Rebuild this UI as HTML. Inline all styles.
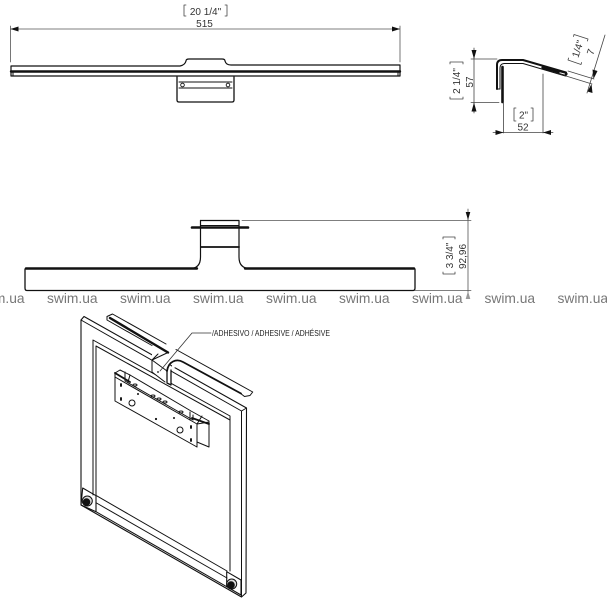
<!DOCTYPE html>
<html><head><meta charset="utf-8"><style>
html,body{margin:0;padding:0;background:#fff}
svg{display:block}
text{font-family:"Liberation Sans",sans-serif;fill:#222}
.w{font-size:13.8px;fill:#777}
.d{font-size:10px;fill:#333}
</style></head><body>
<svg width="607" height="600" viewBox="0 0 607 600" xmlns="http://www.w3.org/2000/svg">
<g fill="none" stroke="#111" stroke-linejoin="round" stroke-linecap="round">
<!-- dimension brackets -->
<g stroke="#444" stroke-width=".8">
<path d="M186 5H184V16H186M225 5H227V16H225"/>
<path d="M516 108H514V121H516M531 108H533V121H531"/>
<path d="M450 64V62H463V64M450 97V99H463V97"/>
<path d="M443 239V237H455V239M443 272V274H455V272"/>
<path d="M573.500 36.500L574 34.500L588 39L587.400 41M568.600 58L568 60L581 64.500L581.600 62.500"/>
</g>
<!-- top view -->
<g stroke="#555" stroke-width=".8"><path d="M10.500 26V62M400 26V62M10.500 29H400"/></g>
<path d="M10.500 29l8-2.500v5zM400 29l-8-2.500v5z" fill="#111" stroke="none"/>
<path d="M11 66H180Q185 65 186 61Q186 59 189 59H222Q225 59 225 61Q226 65 231 65H400V76H11Z" stroke-width="1.200"/>
<path d="M11 71.500H400" stroke-width="2.400"/>
<path d="M13 72V76M398 72V76" stroke-width="1"/>
<path d="M177 77V100Q177 102 179 102H232Q234 102 234 100V77" stroke-width="1.300"/>
<path d="M179 82H232M179 88H232" stroke-width="1"/>
<circle cx="182.500" cy="85" r="1.800" stroke-width=".9"/><circle cx="228" cy="85" r="1.800" stroke-width=".9"/>
<!-- side profile -->
<path d="M497 89V65Q497 60 502 60H523L566 72.500" stroke-width="2"/>
<path d="M500 89V68Q500 64 504 63.500H523L565.500 76" stroke-width="1"/>
<path d="M497 89H500M566 72V76" stroke-width="1"/>
<path d="M502.500 67V102" stroke-width="2.600"/>
<path d="M543 67.500L566 74" stroke-width="3.200"/>
<path d="M560 72.800L564.500 74" stroke="#fff" stroke-width="1"/>
<g stroke="#444" stroke-width=".8">
<path d="M471 59H497M471 102.500H499M474 48V113"/>
<path d="M503.500 103V133M543 74V133M493 132.500H553"/>
<path d="M568 71L594 79M566 76L592 84M605 35L587 93"/>
</g>
<g fill="#111" stroke="none">
<path d="M474 59l-2.500-9h5zM474 102.500l-2.500 9h5z"/>
<path d="M503.500 132.500l-8-2.500v5zM543 132.500l8-2.500v5z"/>
<path d="M593.500 79l-1-9.500 5 1.500zM591.500 84l1 9-5-1.500z"/>
</g>
<!-- middle view -->
<path d="M200.500 220.500H239V257Q239 268.500 250 268.500" stroke-width="1.200"/>
<path d="M200.500 220.500V257Q200.500 268.500 190 268.500" stroke-width="1.200"/>
<path d="M200.500 225.500H239" stroke-width="1"/>
<path d="M192 227.500H248" stroke-width="2.600"/>
<path d="M201 247H239" stroke-width="1.800"/>
<path d="M26 268.500H197M245 268.500H414" stroke-width="2.400"/>
<path d="M25 269V288Q25 290.500 27 290.500H413Q415 290.500 415 288V269" stroke-width="1.300"/>
<g stroke="#555" stroke-width=".8"><path d="M242 220.500H471M415 290.500H471M468 209V298"/></g>
<path d="M468 220l-2.300-8h4.600z" fill="#111" stroke="none"/>
<path d="M468 291l-2.300 8h4.600z" fill="#999" stroke="none"/>
<!-- iso frame -->
<g stroke-width="1">
<path d="M81 320L84 316.500L246.500 408L246 593L241.500 597L81 505Z" stroke-width="1.100"/>
<path d="M81 320L241.500 411V597M241.500 411L246.500 408"/>
<path d="M93 495V340L230 416V571"/>
<path d="M96 496V346L230 420"/>
<path d="M82.700 488L96 495.700V511.700L81 505ZM226.700 571.700L241 580V595L226.700 586.700Z" stroke-width="1.100"/>
<path d="M96.500 495.700L227 571M96.500 503L227 578M96 511.700L226.700 586.700"/>
</g>
<circle cx="87.300" cy="501" r="5" fill="#ddd" stroke-width="1"/><circle cx="86.500" cy="502" r="3.800" fill="#111" stroke="none"/>
<circle cx="231.700" cy="584" r="5" fill="#ddd" stroke-width="1"/><circle cx="231" cy="585" r="3.800" fill="#111" stroke="none"/>
<!-- strip -->
<path d="M107 316.500L112.500 314L166 344L168 352.500L171 370V385L165 382L152 372V360L152 346L107 320.500Z" fill="#fff" stroke="none"/>
<path d="M176 349.500L252.700 392L250 395.500L244.500 396.500L241 394L183 362L171 370Z" fill="#fff" stroke="none"/>
<g stroke-width="1">
<path d="M107 316.500L112.500 314L166 344M107 316.500V320L152 345.500"/>
<path d="M176 349.500L252.700 392L250 395.500L244.500 396.500L240 393"/>
</g>
<path d="M110 318L168 352.500" stroke-width="2.400"/>
<path d="M167 371Q168 364 173 361.500Q178 359 183 362L241 393.500" stroke-width="1.800"/>
<path d="M152 360V372L165 382M152 360L167 371M152 360L168 352.500M152 360L158 354" stroke-width="1"/>
<path d="M167 371V383M171 370V385M167 383L171 385" stroke-width="1.300"/>
<circle cx="158" cy="372" r=".9" fill="#111" stroke="none"/>
<!-- plate -->
<g stroke-width="1">
<path d="M115 373L120 370L130 375L191 411L209 421V447L197 442V447L115 401Z"/>
<path d="M115 377L197 424V447M197 424L209 422"/>
<path d="M125 372V381L193 420V415"/>
<path d="M130 375L128 382M190 412V420M202 416L197 424"/>
</g>
<path d="M115 373L130 382M192 418L209 424" stroke-width="1.800"/>
<circle cx="132" cy="403" r="3" stroke-width="1"/><circle cx="180" cy="430" r="3" stroke-width="1"/>
<g fill="#111" stroke="none">
<ellipse cx="121" cy="385" rx="1" ry="2"/><ellipse cx="121" cy="399" rx="1" ry="2"/>
<ellipse cx="191" cy="427" rx="1" ry="2"/><ellipse cx="191" cy="440" rx="1" ry="2"/>
<circle cx="156" cy="419" r="1.100"/><circle cx="174" cy="418" r="1"/><circle cx="138" cy="394" r="1"/>
</g>
<g stroke-width="1">
<ellipse cx="135" cy="385" rx="2" ry="1"/><ellipse cx="153" cy="396" rx="2" ry="1"/><ellipse cx="159" cy="399" rx="2" ry="1"/><ellipse cx="165" cy="402" rx="2" ry="1"/><ellipse cx="181" cy="412" rx="2" ry="1"/>
</g>
<path d="M211 333H192L160 371" stroke="#333" stroke-width=".8"/>
</g>
<text x="205.500" y="15" class="d" text-anchor="middle">20 1/4"</text>
<text x="204.500" y="27" class="d" text-anchor="middle">515</text>
<text x="523.500" y="118.500" class="d" text-anchor="middle">2"</text>
<text x="523" y="130.500" class="d" text-anchor="middle">52</text>
<text transform="translate(460,81) rotate(-90)" class="d" text-anchor="middle">2 1/4"</text>
<text transform="translate(473,82) rotate(-90)" class="d" text-anchor="middle">57</text>
<text transform="translate(581,50) rotate(-72)" class="d" text-anchor="middle">1/4"</text>
<text transform="translate(594,53) rotate(-72)" class="d" text-anchor="middle">7</text>
<text transform="translate(453,255.500) rotate(-90)" class="d" text-anchor="middle">3 3/4"</text>
<text transform="translate(466,256.500) rotate(-90)" class="d" text-anchor="middle">92,96</text>
<text x="212" y="336" font-size="7.800" fill="#222" textLength="118" lengthAdjust="spacingAndGlyphs">/ADHESIVO / ADHESIVE / ADHÉSIVE</text>
<text x="-26" y="303" class="w">swim.ua</text>
<text x="47" y="303" class="w">swim.ua</text>
<text x="120" y="303" class="w">swim.ua</text>
<text x="193" y="303" class="w">swim.ua</text>
<text x="266" y="303" class="w">swim.ua</text>
<text x="339" y="303" class="w">swim.ua</text>
<text x="412" y="303" class="w">swim.ua</text>
<text x="484.500" y="303" class="w">swim.ua</text>
<text x="557.500" y="303" class="w">swim.ua</text>
</svg>
</body></html>
